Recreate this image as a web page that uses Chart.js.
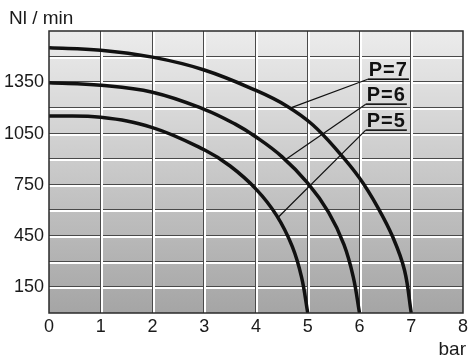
<!DOCTYPE html>
<html>
<head>
<meta charset="utf-8">
<script src="https://cdn.jsdelivr.net/npm/chart.js@4.4.1/dist/chart.umd.min.js"></script>
<style>
  html, body { margin: 0; padding: 0; background: #fff; }
  #wrap { width: 472px; height: 362px; }
</style>
</head>
<body>
<div id="wrap"><canvas id="chart" width="472" height="362"></canvas></div>
<script>
// curves: pressure (bar) vs flow (Nl/min)
const curveLabels = ['P=7', 'P=6', 'P=5'];

const p7Bar  = [0, 1, 2, 3, 4, 4.6, 5.1, 5.6, 6.0, 6.35, 6.65, 6.87, 7];
const p7Flow = [1552, 1538, 1497, 1422, 1302, 1210, 1100, 940, 790, 620, 440, 250, 0];

const p6Bar  = [0, 1, 2, 3, 3.6, 4, 4.5, 5, 5.4, 5.7, 5.88, 6];
const p6Flow = [1347, 1333, 1292, 1192, 1105, 1030, 915, 760, 590, 400, 210, 0];

const p5Bar  = [0, 1, 2, 3, 3.5, 4, 4.4, 4.7, 4.88, 5];
const p5Flow = [1153, 1145, 1085, 955, 860, 725, 570, 390, 210, 0];

// leader lines: from the label's underline down to its curve
const leaderFromBar  = [6.16, 6.12, 6.12];
const leaderFromFlow = [1368, 1222, 1070];
const leaderToBar    = [4.67, 4.58, 4.43];
const leaderToFlow   = [1200, 900, 560];

const yLabelValues = [150, 450, 750, 1050, 1350];

const FONT = "'Liberation Sans', Arial, sans-serif";

const toPoints = (xs, ys) => xs.map((v, i) => ({ x: v, y: ys[i] }));

const curves = [[p7Bar, p7Flow], [p6Bar, p6Flow], [p5Bar, p5Flow]].map(([xs, ys], i) => ({
    label: curveLabels[i],
    data: toPoints(xs, ys),
    showLine: true,
    borderColor: '#111',
    borderWidth: 3.5,
    pointRadius: 0,
    tension: 0.4,
    fill: false
}));

const leaders = curveLabels.map((name, i) => ({
    label: name + ' leader',
    data: [
        { x: leaderFromBar[i], y: leaderFromFlow[i] },
        { x: leaderToBar[i], y: leaderToFlow[i] }
    ],
    showLine: true,
    borderColor: '#111',
    borderWidth: 1.2,
    pointRadius: 0,
    fill: false
}));

const panelPlugin = {
    id: 'panel',
    beforeDatasetsDraw(chart) {
        const { ctx, chartArea: a, scales: { x, y } } = chart;
        const w = a.right - a.left;
        const h = a.bottom - a.top;
        ctx.save();
        const g = ctx.createLinearGradient(0, a.top, 0, a.bottom);
        g.addColorStop(0, '#ececec');
        g.addColorStop(1, '#a5a5a5');
        ctx.fillStyle = g;
        ctx.fillRect(a.left, a.top, w, h);

        // embossed grid: dark line with a white line beside it
        y.ticks.forEach(t => {
            if (t.value <= y.min || t.value >= y.max) return;
            const py = Math.round(y.getPixelForValue(t.value));
            ctx.fillStyle = '#4a4a4a';
            ctx.fillRect(a.left, py - 1, w, 1);
            ctx.fillStyle = '#ffffff';
            ctx.fillRect(a.left, py, w, 2);
        });
        x.ticks.forEach(t => {
            if (t.value <= x.min || t.value >= x.max) return;
            const px = Math.round(x.getPixelForValue(t.value));
            ctx.fillStyle = '#4a4a4a';
            ctx.fillRect(px - 1, a.top, 1, h);
            ctx.fillStyle = '#ffffff';
            ctx.fillRect(px, a.top, 2, h);
        });
        ctx.restore();
    },
    afterDatasetsDraw(chart) {
        const { ctx, chartArea: a, scales: { x, y } } = chart;
        ctx.save();
        ctx.strokeStyle = '#2a2a2a';
        ctx.lineWidth = 1.5;
        ctx.strokeRect(a.left, a.top, a.right - a.left, a.bottom - a.top);

        // curve labels, underlined
        ctx.fillStyle = '#111';
        ctx.font = 'bold 20px ' + FONT;
        ctx.letterSpacing = '1px';
        ctx.textAlign = 'left';
        ctx.textBaseline = 'alphabetic';
        curveLabels.forEach((name, i) => {
            const px = x.getPixelForValue(leaderFromBar[i]);
            const py = y.getPixelForValue(leaderFromFlow[i]);
            const tw = ctx.measureText(name).width;
            ctx.fillText(name, px + 1, py - 3);
            ctx.fillRect(px, py - 0.8, tw + 2, 1.6);
        });
        ctx.letterSpacing = '0px';

        // axis titles
        ctx.font = '19px ' + FONT;
        ctx.fillStyle = '#1a1a1a';
        ctx.fillText('Nl / min', 9, 24);
        ctx.textAlign = 'right';
        ctx.fillText('bar', 466, 355);
        ctx.restore();
    }
};

new Chart(document.getElementById('chart'), {
    type: 'scatter',
    data: { datasets: [...curves, ...leaders] },
    options: {
        responsive: false,
        animation: false,
        layout: { padding: { top: 31, right: 9, left: 0, bottom: 0 } },
        plugins: {
            legend: { display: false },
            tooltip: { enabled: false }
        },
        scales: {
            x: {
                type: 'linear',
                min: 0,
                max: 8,
                grid: { display: false, drawTicks: false },
                border: { display: false },
                afterFit: s => { s.height = 49; },
                ticks: {
                    stepSize: 1,
                    padding: 3,
                    color: '#1a1a1a',
                    font: { family: FONT, size: 18 }
                }
            },
            y: {
                type: 'linear',
                min: 0,
                max: 1650,
                grid: { display: false, drawTicks: false },
                border: { display: false },
                afterFit: s => { s.width = 49; },
                ticks: {
                    stepSize: 150,
                    autoSkip: false,
                    padding: 5,
                    color: '#1a1a1a',
                    font: { family: FONT, size: 18 },
                    callback: v => yLabelValues.includes(v) ? v : ''
                }
            }
        }
    },
    plugins: [panelPlugin]
});
</script>
</body>
</html>
